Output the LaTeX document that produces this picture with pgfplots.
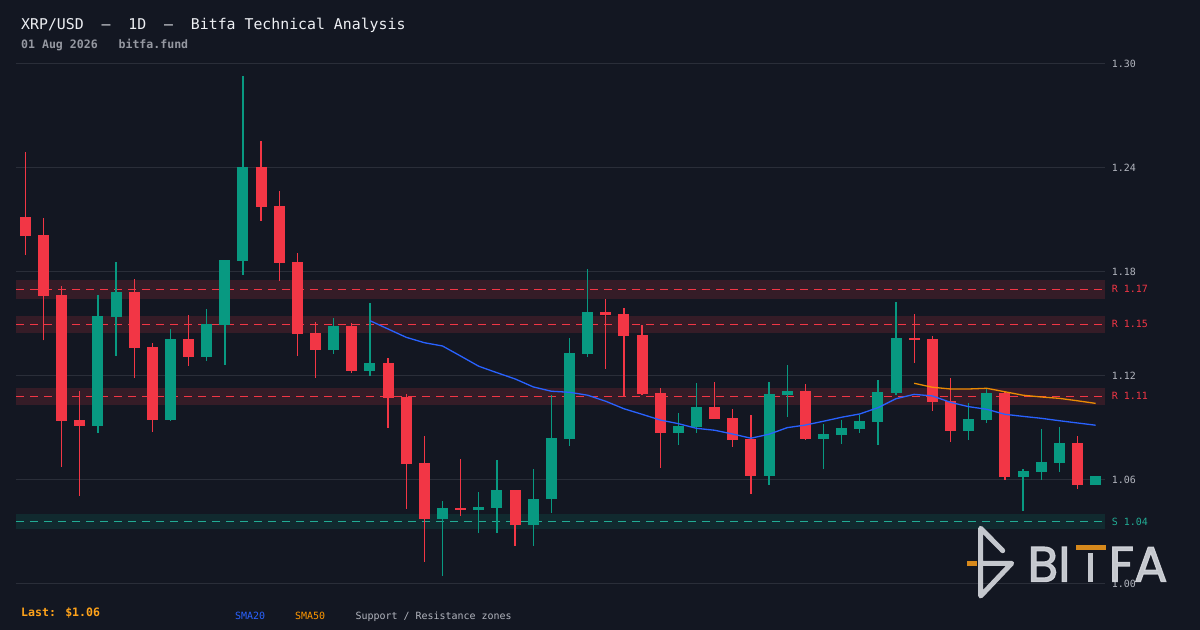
\documentclass[border=0pt]{standalone}
\usepackage{fontspec}
\setmainfont{DejaVu Sans Mono}
\newfontfamily\logofont{Poppins}[FakeBold=2.2]
\usepackage{pgfplots}
\pgfplotsset{compat=1.18}
\usepackage{pgfplotstable}

\definecolor{bgc}{HTML}{131722}
\definecolor{gridc}{HTML}{2A2E39}
\definecolor{redc}{HTML}{F23645}
\definecolor{greenc}{HTML}{089981}
\definecolor{zoneR}{HTML}{351C27}
\definecolor{zoneG}{HTML}{112A2F}
\definecolor{tealc}{HTML}{22AB94}
\definecolor{smablue}{HTML}{2962FF}
\definecolor{smaorange}{HTML}{FF9800}
\definecolor{tickc}{HTML}{B2B5BE}
\definecolor{titlec}{HTML}{EEF0F4}
\definecolor{subc}{HTML}{9598A1}
\definecolor{lastc}{HTML}{FFA31A}
\definecolor{logoc}{HTML}{D4D6DC}
\definecolor{logoorange}{HTML}{E8931C}

\pgfplotstableread{
x o h l c
0 1.2118 1.2493 1.1900 1.2009
1 1.2013 1.2112 1.1405 1.1664
2 1.1668 1.1719 1.0677 1.0942
3 1.0946 1.1114 1.0509 1.0913
6 1.1685 1.1760 1.1190 1.1364
7 1.1367 1.1391 1.0878 1.0948
9 1.1414 1.1552 1.1260 1.1311
13 1.2405 1.2555 1.2097 1.2177
14 1.2181 1.2267 1.1750 1.1853
15 1.1858 1.1908 1.1317 1.1444
16 1.1448 1.1512 1.1190 1.1352
18 1.1488 1.1506 1.1219 1.1231
20 1.1275 1.1304 1.0902 1.1075
21 1.1079 1.1096 1.0434 1.0694
22 1.0698 1.0854 1.0129 1.0377
24 1.0438 1.0721 1.0394 1.0427
27 1.0542 1.0542 1.0221 1.0342
32 1.1569 1.1644 1.1242 1.1554
33 1.1558 1.1592 1.1085 1.1433
34 1.1437 1.1494 1.1089 1.1098
35 1.1102 1.1131 1.0671 1.0873
38 1.1021 1.1165 1.0954 1.0954
39 1.0958 1.1010 1.0792 1.0833
40 1.0836 1.0975 1.0521 1.0625
43 1.1113 1.1154 1.0833 1.0838
49 1.1419 1.1558 1.1277 1.1408
50 1.1413 1.1431 1.1000 1.1052
51 1.1056 1.1188 1.0821 1.0884
54 1.1102 1.1109 1.0602 1.0619
58 1.0813 1.0854 1.0550 1.0573
}\redtab

\pgfplotstableread{
x o h l c
4 1.0913 1.1668 1.0872 1.1547
5 1.1541 1.1857 1.1317 1.1685
8 1.0948 1.1471 1.0942 1.1414
10 1.1311 1.1586 1.1288 1.1500
11 1.1496 1.1869 1.1266 1.1869
12 1.1865 1.2931 1.1785 1.2405
17 1.1352 1.1535 1.1329 1.1488
19 1.1231 1.1621 1.1202 1.1275
23 1.0377 1.0479 1.0048 1.0438
25 1.0427 1.0531 1.0294 1.0444
26 1.0440 1.0715 1.0294 1.0542
28 1.0342 1.0663 1.0221 1.0490
29 1.0490 1.1090 1.0411 1.0842
30 1.0838 1.1419 1.0798 1.1333
31 1.1329 1.1817 1.1311 1.1569
36 1.0873 1.0987 1.0804 1.0912
37 1.0908 1.1160 1.0873 1.1021
41 1.0625 1.1165 1.0573 1.1096
42 1.1090 1.1263 1.0965 1.1113
44 1.0838 1.0923 1.0665 1.0865
45 1.0861 1.0946 1.0809 1.0900
46 1.0896 1.0975 1.0873 1.0940
47 1.0937 1.1177 1.0804 1.1108
48 1.1104 1.1627 1.1092 1.1419
52 1.0884 1.1044 1.0833 1.0952
53 1.0948 1.1127 1.0931 1.1102
55 1.0619 1.0665 1.0423 1.0652
56 1.0648 1.0894 1.0602 1.0704
57 1.0700 1.0906 1.0648 1.0813
59 1.0573 1.0623 1.0573 1.0623
}\greentab

\pgfplotstableread{
x y
19 1.1519
20 1.1471
21 1.1423
22 1.1392
23 1.1373
24 1.1315
25 1.1256
26 1.1219
27 1.1183
28 1.1137
29 1.1112
30 1.1106
31 1.1089
32 1.1054
33 1.1011
34 1.0979
35 1.0946
36 1.0925
37 1.0898
38 1.0887
39 1.0865
40 1.0841
41 1.0864
42 1.0902
43 1.0917
44 1.0939
45 1.0962
46 1.0981
47 1.1017
48 1.1069
49 1.1094
50 1.1085
51 1.1048
52 1.1023
53 1.1008
54 1.0979
55 1.0967
56 1.0956
57 1.0942
58 1.0929
59 1.0916
}\smatwenty

\pgfplotstableread{
x y
49 1.1158
50 1.1135
51 1.1125
52 1.1125
53 1.1129
54 1.1109
55 1.1089
56 1.1079
57 1.1071
58 1.1057
59 1.1042
}\smafifty

\begin{document}
\begin{tikzpicture}[x=1bp,y=1bp]
\path[use as bounding box] (0,0) rectangle (1200,630);
\fill[bgc] (0,0) rectangle (1200,630);

\begin{axis}[
  at={(16bp,46bp)}, anchor=south west,
  scale only axis, width=1089bp, height=520bp,
  xmin=-0.513, xmax=59.52, ymin=1.00, ymax=1.30,
  clip=false,
  axis line style={draw=none},
  xtick=\empty,
  ytick={1.00,1.06,1.12,1.18,1.24,1.30},
  ymajorgrids, grid style={color=gridc, line width=1bp},
  major tick length=0pt, tick style={draw=none},
  yticklabel pos=right,
  yticklabel style={anchor=west, inner sep=0pt, xshift=6.7bp,
    font=\fontsize{10}{12}\selectfont, text=tickc,
    /pgf/number format/.cd, fixed, fixed zerofill, precision=2, assume math mode=true},
]
% zones
\addplot [draw=none, fill=zoneR, forget plot] coordinates {(-0.513,1.1644) (59.52,1.1644) (59.52,1.1754) (-0.513,1.1754)} -- cycle;
\addplot [draw=none, fill=zoneR, forget plot] coordinates {(-0.513,1.1447) (59.52,1.1447) (59.52,1.1547) (-0.513,1.1547)} -- cycle;
\addplot [draw=none, fill=zoneR, forget plot] coordinates {(-0.513,1.1032) (59.52,1.1032) (59.52,1.1131) (-0.513,1.1131)} -- cycle;
\addplot [draw=none, fill=zoneG, forget plot] coordinates {(-0.513,1.0316) (59.52,1.0316) (59.52,1.0404) (-0.513,1.0404)} -- cycle;
% dashed levels
\addplot [redc, line width=1.2bp, dash pattern=on 8bp off 6bp, forget plot] coordinates {(-0.513,1.1701) (59.35,1.1701)};
\addplot [redc, line width=1.2bp, dash pattern=on 8bp off 6bp, forget plot] coordinates {(-0.513,1.1498) (59.35,1.1498)};
\addplot [redc, line width=1.2bp, dash pattern=on 8bp off 6bp, forget plot] coordinates {(-0.513,1.1083) (59.35,1.1083)};
\addplot [tealc, line width=1.2bp, dash pattern=on 8bp off 6bp, forget plot] coordinates {(-0.513,1.0361) (59.35,1.0361)};

% red candles
\addplot [draw=none, mark=none, forget plot,
  error bars/.cd, y dir=plus, y explicit, error mark=none,
  error bar style={draw=redc, line width=1.3bp}]
  table [x=x, y=l, y error plus expr=\thisrow{h}-\thisrow{l}] {\redtab};
\addplot [draw=none, mark=none, forget plot,
  error bars/.cd, y dir=plus, y explicit, error mark=none,
  error bar style={draw=redc, line width=11bp}]
  table [x=x, y=c, y error plus expr=\thisrow{o}-\thisrow{c}] {\redtab};
% green candles
\addplot [draw=none, mark=none, forget plot,
  error bars/.cd, y dir=plus, y explicit, error mark=none,
  error bar style={draw=greenc, line width=1.3bp}]
  table [x=x, y=l, y error plus expr=\thisrow{h}-\thisrow{l}] {\greentab};
\addplot [draw=none, mark=none, forget plot,
  error bars/.cd, y dir=plus, y explicit, error mark=none,
  error bar style={draw=greenc, line width=11bp}]
  table [x=x, y=o, y error plus expr=\thisrow{c}-\thisrow{o}] {\greentab};

% moving averages
\addplot [smablue, line width=1.3bp, mark=none] table [x=x, y=y] {\smatwenty};
\addplot [smaorange, line width=1.3bp, mark=none, opacity=0.9] table [x=x, y=y] {\smafifty};

% level labels
\node [anchor=west, inner sep=0pt, xshift=6.7bp, text=redc, font=\fontsize{10}{12}\selectfont] at (axis cs:59.52,1.1701) {R 1.17};
\node [anchor=west, inner sep=0pt, xshift=6.7bp, text=redc, font=\fontsize{10}{12}\selectfont] at (axis cs:59.52,1.1498) {R 1.15};
\node [anchor=west, inner sep=0pt, xshift=6.7bp, text=redc, font=\fontsize{10}{12}\selectfont] at (axis cs:59.52,1.1083) {R 1.11};
\node [anchor=west, inner sep=0pt, xshift=6.7bp, text=tealc, font=\fontsize{10}{12}\selectfont] at (axis cs:59.52,1.0361) {S 1.04};
\end{axis}

% titles
\node [anchor=base west, inner sep=0pt, text=titlec, font=\fontsize{14.9}{16}\selectfont] at (21,600.7) {XRP/USD\ \ –\ \ 1D\ \ –\ \ Bitfa Technical Analysis};
\node [anchor=base west, inner sep=0pt, text=subc, font=\fontsize{11.6}{13}\selectfont\bfseries] at (21,581) {01 Aug 2026\ \ \ bitfa.fund};

% footer
\node [anchor=base west, inner sep=0pt, text=lastc, font=\fontsize{11.6}{13}\selectfont\bfseries] at (21,13) {Last: \$1.06};
\node [anchor=base west, inner sep=0pt, text=smablue, font=\fontsize{10}{12}\selectfont] at (235,10.7) {SMA20};
\node [anchor=base west, inner sep=0pt, text=smaorange, font=\fontsize{10}{12}\selectfont] at (295,10.7) {SMA50};
\node [anchor=base west, inner sep=0pt, text=tickc, font=\fontsize{10}{12}\selectfont] at (355.5,10.7) {Support / Resistance zones};

% watermark logo
\begin{scope}[opacity=0.92]
\fill [logoorange] (967.3,64.3) rectangle (976.7,69);
\draw [logoc, line width=5bp, line cap=round, line join=round]
  (1002.7,79.3) -- (980.7,101.7) -- (980.7,34) -- (1011.7,66.7) -- (980.7,66.7);
\node [anchor=base west, inner sep=0pt, text=logoc, font=\logofont\fontsize{50}{50}\selectfont] at (1027.5,48.3) {BI};
\fill [logoc] (1087.7,48.3) rectangle (1093.3,76.7);
\fill [logoorange] (1075.7,80) rectangle (1105.7,85);
\node [anchor=base west, inner sep=0pt, text=logoc, font=\logofont\fontsize{50}{50}\selectfont] at (1108.7,48.3) {FA};
\end{scope}
\end{tikzpicture}
\end{document}
